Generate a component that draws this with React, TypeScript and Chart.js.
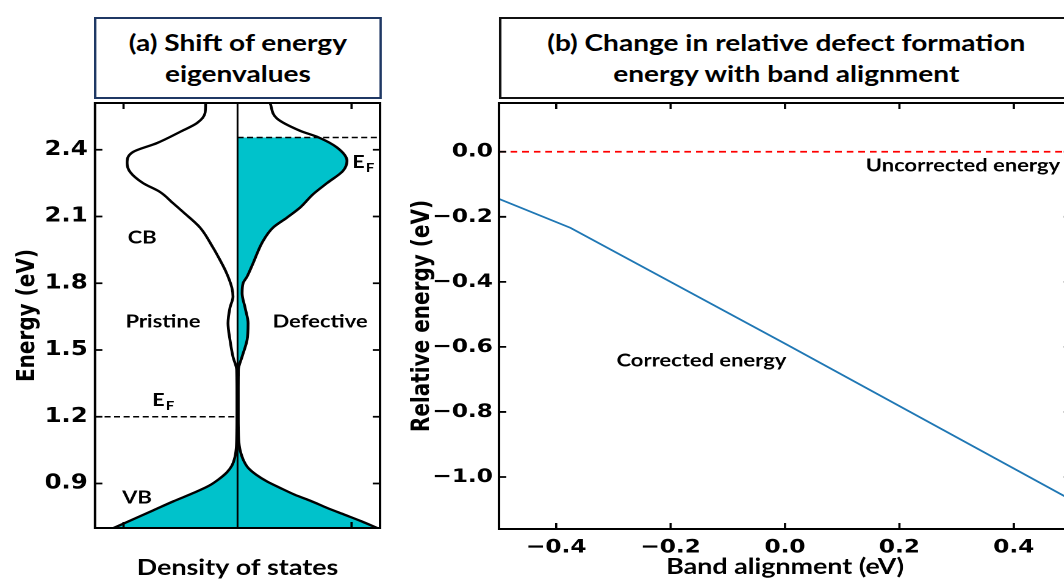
import React, { useEffect, useRef } from 'react';
import { Chart, registerables } from 'chart.js';

Chart.register(...registerables);

// ---------- Panel (a): density of states ----------
const ENERGY_PRISTINE = [0.70, 0.74, 0.78, 0.82, 0.86, 0.89, 0.92, 0.95, 0.98, 1.02, 1.06, 1.10, 1.20, 1.30, 1.41, 1.47, 1.545, 1.62, 1.69, 1.74, 1.78, 1.85, 1.93, 1.96, 2.05, 2.12, 2.16, 2.21, 2.25, 2.30, 2.34, 2.39, 2.43, 2.48, 2.52, 2.565, 2.61];
const DOS_PRISTINE = [0.87, 0.73, 0.59, 0.45, 0.30, 0.20, 0.13, 0.075, 0.04, 0.018, 0.009, 0.006, 0.004, 0.004, 0.006, 0.032, 0.053, 0.067, 0.053, 0.032, 0.04, 0.08, 0.145, 0.172, 0.263, 0.382, 0.453, 0.544, 0.663, 0.754, 0.775, 0.733, 0.565, 0.404, 0.284, 0.228, 0.224];
const FERMI_PRISTINE = 1.2;

const ENERGY_DEFECTIVE = [0.70, 0.73, 0.76, 0.79, 0.82, 0.85, 0.88, 0.91, 0.94, 0.97, 1.00, 1.05, 1.10, 1.20, 1.30, 1.41, 1.47, 1.545, 1.62, 1.69, 1.755, 1.80, 1.83, 1.89, 1.99, 2.05, 2.095, 2.14, 2.20, 2.25, 2.305, 2.35, 2.41, 2.455, 2.485, 2.54, 2.61];
const DOS_DEFECTIVE = [0.98, 0.87, 0.75, 0.63, 0.52, 0.40, 0.30, 0.205, 0.13, 0.075, 0.045, 0.018, 0.008, 0.005, 0.005, 0.006, 0.032, 0.067, 0.074, 0.053, 0.032, 0.039, 0.067, 0.109, 0.179, 0.249, 0.347, 0.439, 0.53, 0.628, 0.74, 0.768, 0.698, 0.57, 0.439, 0.277, 0.228];
const FERMI_DEFECTIVE = 2.455;

const ENERGY_TICKS = [0.9, 1.2, 1.5, 1.8, 2.1, 2.4];
const DOS_TICKS = [-0.8, 0.8];
const DOS_RANGE = [-1, 1];
const ENERGY_RANGE = [0.7, 2.61];

// ---------- Panel (b): relative formation energy ----------
const BAND_ALIGNMENT = [-0.5, -0.375, 0.0, 0.5];
const CORRECTED_ENERGY = [-0.145, -0.234, -0.59, -1.07];
const UNCORRECTED_ALIGNMENT = [-0.5, 0.5];
const UNCORRECTED_ENERGY = [0.0, 0.0];
const ALIGNMENT_TICKS = [-0.4, -0.2, 0.0, 0.2, 0.4];
const RELATIVE_TICKS = [-1.0, -0.8, -0.6, -0.4, -0.2, 0.0];
const ALIGNMENT_RANGE = [-0.5, 0.5];
const RELATIVE_RANGE = [-1.16, 0.15];

const STRETCH = 1.22;
const CYAN = '#00C2CB';
const TICK_FONT = { family: 'DejaVu Sans', weight: 'bold' as const, size: 20 };
const TICK_FONT_B = { family: 'DejaVu Sans', weight: 'bold' as const, size: 19 };
const LABEL_FAMILY = 'Lato';

const fmt = (v: number) => {
  const s = Math.abs(v) < 1e-9 ? '0.0' : v.toFixed(1);
  return s.replace('-', '\u2212');
};

function makeFrame(xTicks: number[], yTicks: number[]) {
  return {
    id: 'frame',
    afterDraw(chart: any) {
      const { ctx, chartArea: a, scales } = chart;
      ctx.save();
      ctx.strokeStyle = '#000';
      ctx.lineWidth = 2;
      ctx.strokeRect(a.left, a.top, a.right - a.left, a.bottom - a.top);
      const L = 6;
      ctx.lineWidth = 1.8;
      ctx.beginPath();
      xTicks.forEach((v) => {
        const p = scales.x.getPixelForValue(v);
        ctx.moveTo(p, a.bottom); ctx.lineTo(p, a.bottom - L);
        ctx.moveTo(p, a.top); ctx.lineTo(p, a.top + L);
      });
      yTicks.forEach((v) => {
        const p = scales.y.getPixelForValue(v);
        ctx.moveTo(a.left, p); ctx.lineTo(a.left + L, p);
        ctx.moveTo(a.right, p); ctx.lineTo(a.right - L, p);
      });
      ctx.stroke();
      ctx.restore();
    },
  };
}

type Note = { text: string; x: number; y: number; size: number; align?: string; baseline?: string; sub?: string };

function makeNotes(items: Note[]) {
  return {
    id: 'notes',
    afterDatasetsDraw(chart: any) {
      const { ctx, scales } = chart;
      items.forEach((it) => {
        const px = scales.x.getPixelForValue(it.x);
        const py = scales.y.getPixelForValue(it.y);
        ctx.save();
        ctx.fillStyle = '#000';
        ctx.font = `bold ${it.size}px ${LABEL_FAMILY}`;
        ctx.textAlign = it.align || 'center';
        ctx.textBaseline = it.baseline || 'middle';
        ctx.fillText(it.text, px, py);
        if (it.sub) {
          const w = ctx.measureText(it.text).width;
          ctx.font = `bold ${Math.round(it.size * 0.65)}px ${LABEL_FAMILY}`;
          ctx.textAlign = 'left';
          ctx.fillText(it.sub, px + w + 1, py + 4);
        }
        ctx.restore();
      });
    },
  };
}

function curve(E: number[], D: number[], sign: number, maxE = Infinity) {
  return E.map((e, i) => ({ x: sign * D[i], y: e })).filter((p) => p.y <= maxE + 1e-9);
}

function leftConfig(): any {
  const base = { pointRadius: 0, cubicInterpolationMode: 'monotone', fill: false };
  return {
    type: 'line',
    data: {
      datasets: [
        { ...base, label: 'Pristine (occupied)', data: curve(ENERGY_PRISTINE, DOS_PRISTINE, -1, FERMI_PRISTINE), fill: 'origin', backgroundColor: CYAN, borderColor: 'rgba(0,0,0,0)', borderWidth: 0, order: 5 },
        { ...base, label: 'Defective (occupied)', data: curve(ENERGY_DEFECTIVE, DOS_DEFECTIVE, 1, FERMI_DEFECTIVE), fill: 'origin', backgroundColor: CYAN, borderColor: 'rgba(0,0,0,0)', borderWidth: 0, order: 5 },
        { ...base, label: 'Pristine', data: curve(ENERGY_PRISTINE, DOS_PRISTINE, -1), borderColor: '#000', borderWidth: 2.3, order: 2 },
        { ...base, label: 'Defective', data: curve(ENERGY_DEFECTIVE, DOS_DEFECTIVE, 1), borderColor: '#000', borderWidth: 2.3, order: 2 },
        { label: 'Zero', data: [{ x: 0, y: ENERGY_RANGE[0] }, { x: 0, y: ENERGY_RANGE[1] }], borderColor: '#000', borderWidth: 1.5, pointRadius: 0, tension: 0, fill: false, order: 1 },
        { label: 'E_F pristine', data: [{ x: DOS_RANGE[0], y: FERMI_PRISTINE }, { x: 0, y: FERMI_PRISTINE }], borderColor: '#000', borderWidth: 1.5, borderDash: [5, 2.8], pointRadius: 0, tension: 0, fill: false, order: 1 },
        { label: 'E_F defective', data: [{ x: 0, y: FERMI_DEFECTIVE }, { x: DOS_RANGE[1], y: FERMI_DEFECTIVE }], borderColor: '#000', borderWidth: 1.5, borderDash: [5, 2.8], pointRadius: 0, tension: 0, fill: false, order: 1 },
      ],
    },
    options: {
      indexAxis: 'y',
      responsive: false,
      animation: false,
      devicePixelRatio: 2,
      layout: { padding: { top: 103, right: 18.5, left: 0, bottom: 0 } },
      plugins: { legend: { display: false }, tooltip: { enabled: false } },
      scales: {
        x: {
          type: 'linear', min: DOS_RANGE[0], max: DOS_RANGE[1],
          ticks: { display: false },
          grid: { display: false, drawTicks: false },
          border: { display: false },
          title: { display: true, text: 'Density of states', color: '#000', font: { family: LABEL_FAMILY, weight: 'bold', size: 22 }, padding: { top: 0, bottom: 0 } },
          afterFit: (s: any) => { s.height = 53; },
        },
        y: {
          type: 'linear', min: ENERGY_RANGE[0], max: ENERGY_RANGE[1],
          afterBuildTicks: (s: any) => { s.ticks = ENERGY_TICKS.map((v) => ({ value: v })); },
          ticks: { font: TICK_FONT, color: '#000', padding: 6, callback: (v: any) => fmt(Number(v)) },
          grid: { display: false, drawTicks: false },
          border: { display: false },
          title: { display: true, text: 'Energy (eV)', color: '#000', font: TICK_FONT, padding: { top: 11, bottom: 0 } },
          afterFit: (s: any) => { s.width = 77.9; },
        },
      },
    },
    plugins: [
      makeFrame(DOS_TICKS, ENERGY_TICKS),
      makeNotes([
        { text: 'CB', x: -0.67, y: 2.005, size: 18 },
        { text: 'Pristine', x: -0.523, y: 1.627, size: 18 },
        { text: 'Defective', x: 0.579, y: 1.627, size: 18 },
        { text: 'VB', x: -0.705, y: 0.836, size: 18 },
        { text: 'E', sub: 'F', x: -0.6, y: 1.249, size: 18, align: 'left', baseline: 'alphabetic' },
        { text: 'E', sub: 'F', x: 0.804, y: 2.319, size: 18, align: 'left', baseline: 'alphabetic' },
      ]),
    ],
  };
}

function rightConfig(): any {
  return {
    type: 'line',
    data: {
      datasets: [
        { label: 'Uncorrected energy', data: UNCORRECTED_ALIGNMENT.map((x, i) => ({ x, y: UNCORRECTED_ENERGY[i] })), borderColor: '#ff0000', borderWidth: 1.8, borderDash: [5.5, 4], pointRadius: 0, tension: 0, fill: false, order: 2 },
        { label: 'Corrected energy', data: BAND_ALIGNMENT.map((x, i) => ({ x, y: CORRECTED_ENERGY[i] })), borderColor: '#1f77b4', borderWidth: 1.7, pointRadius: 0, tension: 0, fill: false, order: 1 },
      ],
    },
    options: {
      responsive: false,
      animation: false,
      devicePixelRatio: 2,
      layout: { padding: { top: 103, right: 22.1, left: 0, bottom: 0 } },
      plugins: { legend: { display: false }, tooltip: { enabled: false } },
      scales: {
        x: {
          type: 'linear', min: ALIGNMENT_RANGE[0], max: ALIGNMENT_RANGE[1],
          afterBuildTicks: (s: any) => { s.ticks = ALIGNMENT_TICKS.map((v) => ({ value: v })); },
          ticks: { font: TICK_FONT_B, color: '#000', padding: 7, callback: (v: any) => fmt(Number(v)) },
          grid: { display: false, drawTicks: false },
          border: { display: false },
          title: { display: true, text: 'Band alignment (eV)', color: '#000', font: { family: LABEL_FAMILY, weight: 'bold', size: 22 }, padding: { top: 0, bottom: 1 } },
          afterFit: (s: any) => { s.height = 52; },
        },
        y: {
          type: 'linear', min: RELATIVE_RANGE[0], max: RELATIVE_RANGE[1],
          afterBuildTicks: (s: any) => { s.ticks = RELATIVE_TICKS.map((v) => ({ value: v })); },
          ticks: { font: TICK_FONT_B, color: '#000', padding: 5, callback: (v: any) => fmt(Number(v)) },
          grid: { display: false, drawTicks: false },
          border: { display: false },
          title: { display: true, text: 'Relative energy (eV)', color: '#000', font: TICK_FONT, padding: { top: 4.5, bottom: 0 } },
          afterFit: (s: any) => { s.width = 79; },
        },
      },
    },
    plugins: [
      makeFrame(ALIGNMENT_TICKS, RELATIVE_TICKS),
      makeNotes([
        { text: 'Uncorrected energy', x: 0.481, y: -0.043, size: 18, align: 'right' },
        { text: 'Corrected energy', x: -0.146, y: -0.643, size: 18 },
      ]),
    ],
  };
}

const titleBox = (left: number, width: number, color: string): React.CSSProperties => ({
  position: 'absolute', left, top: 17, width, height: 82, boxSizing: 'border-box',
  border: `2px solid ${color}`, display: 'flex', flexDirection: 'column',
  alignItems: 'center', justifyContent: 'center', fontFamily: LABEL_FAMILY,
  fontWeight: 700, fontSize: 23, lineHeight: '31px', color: '#000', background: '#fff',
});

export default function App() {
  const leftRef = useRef<HTMLCanvasElement>(null);
  const rightRef = useRef<HTMLCanvasElement>(null);

  useEffect(() => {
    const c1 = new Chart(leftRef.current as HTMLCanvasElement, leftConfig());
    const c2 = new Chart(rightRef.current as HTMLCanvasElement, rightConfig());
    return () => { c1.destroy(); c2.destroy(); };
  }, []);

  return (
    <div style={{ position: 'fixed', left: 0, top: 0, width: 1064, height: 581, overflow: 'hidden', background: '#fff' }}>
      <div style={{ position: 'absolute', left: 0, top: 0, width: 900, height: 581, transform: `scaleX(${STRETCH})`, transformOrigin: '0 0' }}>
        <div style={{ position: 'absolute', left: 0, top: 0, width: 330, height: 581 }}>
          <canvas ref={leftRef} width={330} height={581} style={{ display: 'block' }} />
        </div>
        <div style={{ position: 'absolute', left: 330, top: 0, width: 570, height: 581 }}>
          <canvas ref={rightRef} width={570} height={581} style={{ display: 'block' }} />
        </div>
        <div style={titleBox(77, 236, '#1f3864')}>
          <span>(a) Shift of energy</span>
          <span>eigenvalues</span>
        </div>
        <div style={titleBox(409, 471, '#111')}>
          <span>(b) Change in relative defect formation</span>
          <span>energy with band alignment</span>
        </div>
      </div>
    </div>
  );
}
